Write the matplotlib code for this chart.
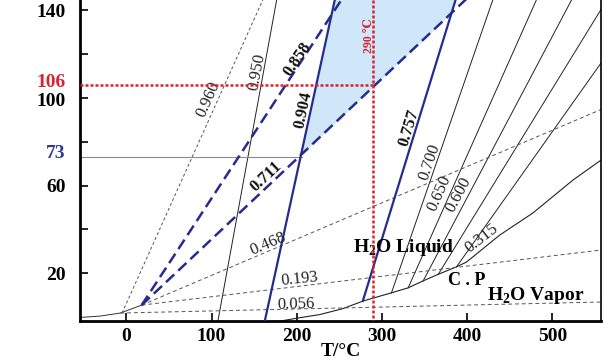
import matplotlib

matplotlib.use("Agg")
import matplotlib.pyplot as plt
import numpy as np

plt.rcParams["font.family"] = ["Liberation Serif", "DejaVu Serif"]
plt.rcParams["mathtext.fontset"] = "custom"
plt.rcParams["mathtext.rm"] = "Liberation Serif:bold"
plt.rcParams["mathtext.bf"] = "Liberation Serif:bold"

# liquid-vapour boundary (T in °C, P), low-T stub and main branch up to C.P. and past it
sat_low_T = [-54, -31, -7, 18]
sat_low_P = [-0.1, 0.5, 1.9, 5.5]
sat_T = [180, 204, 227, 254, 278, 310, 330, 348, 365, 387, 399, 438, 477, 524, 562]
sat_P = [-1.8, -0.2, 1.2, 3.9, 7.4, 11.0, 13.3, 16.5, 19.4, 22.9, 25.1, 37.4, 47.5, 62.5, 73.0]

# thin black isochores on the liquid side: start -> end
liq_names = ["0.950", "0.700", "0.650", "0.600", None, None]
liq_T0 = [107.5, 311, 330.6, 348.2, 365.8, 387.3]
liq_P0 = [-1.7, 11.0, 13.3, 16.5, 19.4, 22.9]
liq_T1 = [178, 433, 485, 527, 566, 570]
liq_P1 = [148, 148, 148, 148, 146, 123]

# grey dashed isochores
vap_names = ["0.960", "0.468", "0.193", "0.056"]
vap_T0 = [-5, 18, 18, -7]
vap_P0 = [1.9, 5.5, 5.5, 1.9]
vap_T1 = [164, 565, 565, 565]
vap_P1 = [148, 96, 31, 7]

# fluid inclusion isochores (blue)
inc_names = ["0.904", "0.757", "0.858", "0.711"]
inc_T0 = [162.5, 277.5, 18, 18]
inc_P0 = [-1.7, 7.4, 5.5, 5.5]
inc_T1 = [246.5, 389, 258, 407]
inc_P1 = [148, 148, 148, 148]
inc_dashed = [False, False, True, True]

t_trap = 290
p_trap = 106
p_min = 73
t_min_end = 206

navy = "#262c8c"
red = "#d8232f"

fig = plt.figure(figsize=(6.04, 3.61), dpi=100)
ax = fig.add_axes([0.1325, 0.1116, 0.8626, 0.8884])

# shaded trapping field: between 0.904 and 0.757, above 0.711
pp = np.linspace(-2, 148, 600)
left = np.interp(pp, [inc_P0[0], inc_P1[0]], [inc_T0[0], inc_T1[0]])
right = np.minimum(np.interp(pp, [inc_P0[1], inc_P1[1]], [inc_T0[1], inc_T1[1]]),
                   np.interp(pp, [inc_P0[3], inc_P1[3]], [inc_T0[3], inc_T1[3]]))
ax.fill_betweenx(pp, left, right, where=right > left, color="#cfe7f8", lw=0, zorder=0)

ax.plot(sat_low_T, sat_low_P, color="#333333", lw=0.7)
ax.plot(sat_T, sat_P, color="#222222", lw=0.8)
for i in range(len(liq_T0)):
    ax.plot([liq_T0[i], liq_T1[i]], [liq_P0[i], liq_P1[i]], color="#222222", lw=0.7)
for i in range(len(vap_T0)):
    dash = (0, (3, 2.5)) if i == 0 else (0, (4, 3))
    ax.plot([vap_T0[i], vap_T1[i]], [vap_P0[i], vap_P1[i]], color="#555555", lw=0.7, ls=dash)

ax.plot([-60, t_min_end], [p_min, p_min], color="#8a8a8a", lw=0.8)

for i in range(len(inc_T0)):
    if inc_dashed[i]:
        ax.plot([inc_T0[i], inc_T1[i]], [inc_P0[i], inc_P1[i]], color=navy, lw=1.8, ls=(0, (4.5, 2.2)), zorder=3)
    else:
        ax.plot([inc_T0[i], inc_T1[i]], [inc_P0[i], inc_P1[i]], color=navy, lw=1.6, zorder=3)

ax.plot([-60, t_trap], [p_trap, p_trap], color=red, lw=1.8, ls=(0, (1.2, 0.8)), zorder=4)
ax.plot([t_trap, t_trap], [-5, 150], color=red, lw=1.8, ls=(0, (1.2, 0.8)), zorder=4)
ax.text(284.5, 128.6, "290 ℃", color=red, fontsize=8.5, fontweight="bold", rotation=90,
        ha="center", va="center", family=["Liberation Serif", "DejaVu Serif"])

# isochore labels
plain = dict(fontsize=12, color="#222222", ha="center", va="center")
bold = dict(fontsize=12, color="#111111", fontweight="bold", ha="center", va="center")
ax.text(95.8, 99.4, vap_names[0], rotation=66, **plain)
ax.text(166, 33.5, vap_names[1], rotation=23, **plain)
ax.text(203.6, 17.6, vap_names[2], rotation=6, **plain)
ax.text(199, 5.6, vap_names[3], rotation=1.5, **plain)
ax.text(153.2, 111.7, liq_names[0], rotation=79, **plain)
ax.text(356, 70.7, liq_names[1], rotation=71, **plain)
ax.text(367.8, 56.6, liq_names[2], rotation=66, **plain)
ax.text(390, 56.1, liq_names[3], rotation=62, **plain)
ax.text(417, 36.1, "0.315", rotation=38, **plain)
ax.text(207.2, 94.4, inc_names[0], rotation=78, **bold)
ax.text(331.4, 86.2, inc_names[1], rotation=73, **bold)
ax.text(201.3, 117.7, inc_names[2], rotation=56, **bold)
ax.text(163.8, 64.3, inc_names[3], rotation=43, **bold)

ax.text(265.6, 29.7, r"H$_{2}$O Liquid", fontsize=14, fontweight="bold", ha="left", va="baseline")
ax.text(377, 14.7, "C . P", fontsize=13, fontweight="bold", ha="left", va="baseline")
ax.text(422.8, 7.8, r"H$_{2}$O Vapor", fontsize=14, fontweight="bold", ha="left", va="baseline")

ax.set_xlim(-54.3, 557)
ax.set_ylim(-1.6, 144.6)
ax.set_xticks([0, 100, 200, 300, 400, 500])
ax.set_yticks([20, 40, 60, 80, 100, 120, 140])
ax.set_yticklabels(["20", "", "60", "", "", "", "140"])
for lab in ax.get_xticklabels() + ax.get_yticklabels():
    lab.set_fontweight("bold")
    lab.set_fontsize(14)

# 100, 106 and 73 sit close together, so they are set by hand beside the axis
ylab = ax.get_yaxis_transform()
ax.text(-0.028, 98.3, "100", transform=ylab, ha="right", va="center", fontsize=14, fontweight="bold")
ax.text(-0.028, 107.2, str(p_trap), transform=ylab, ha="right", va="center", fontsize=14,
        fontweight="bold", color=red)
ax.text(-0.028, p_min + 1.5, str(p_min), transform=ylab, ha="right", va="center", fontsize=14,
        fontweight="bold", color="#2b3990")

ax.tick_params(direction="in", length=6, width=1.2)
ax.tick_params(axis="y", pad=10)
ax.tick_params(axis="x", pad=5)
ax.set_xlabel("T/°C", fontsize=14, fontweight="bold", labelpad=-1)

ax.spines["top"].set_visible(False)
ax.spines["left"].set_linewidth(2.0)
ax.spines["bottom"].set_linewidth(2.0)
ax.spines["right"].set_linewidth(1.2)

fig.savefig("out.png", dpi=100)
